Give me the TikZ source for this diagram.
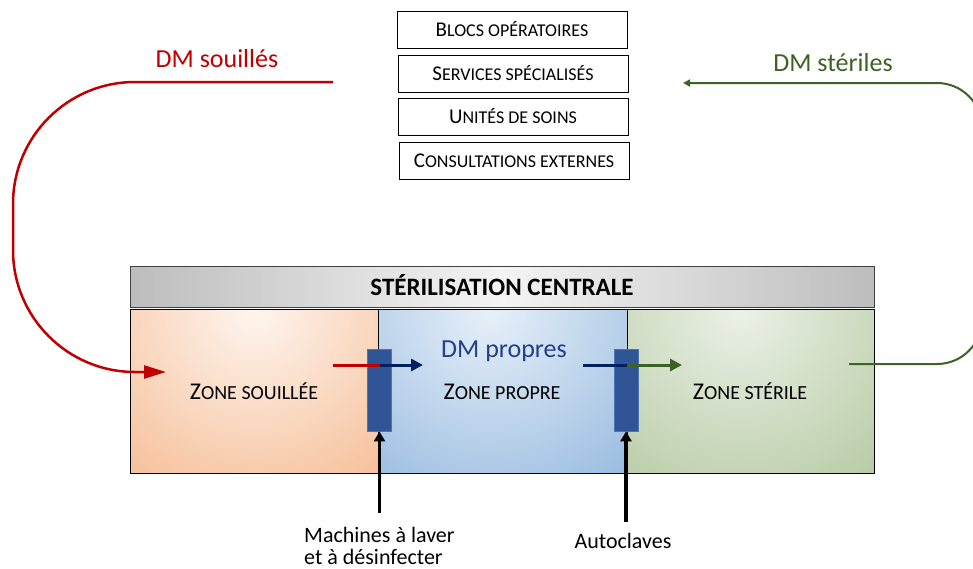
\documentclass[tikz,border=0pt]{standalone}
\usepackage{fontspec}
\setmainfont{Carlito}
\usetikzlibrary{arrows.meta}

\definecolor{soilred}{HTML}{C00000}
\definecolor{sterigreen}{HTML}{3C6226}
\definecolor{navy}{HTML}{002060}
\definecolor{propreblue}{HTML}{223F8C}
\definecolor{machfill}{HTML}{2F5597}
\definecolor{machedge}{HTML}{4A74B5}
\definecolor{hdrgray}{HTML}{BDBDBD}
\definecolor{hdrlight}{HTML}{F4F4F4}
\definecolor{orin}{HTML}{FEF5EF}
\definecolor{orout}{HTML}{F2A168}
\definecolor{blin}{HTML}{E7F0F9}
\definecolor{blout}{HTML}{6C9DD1}
\definecolor{grin}{HTML}{EBF1E7}
\definecolor{grout}{HTML}{95B178}

% small capitals built by hand: first size for the rest of the word
\newcommand\mini[2]{{\fontsize{#1}{#1}\selectfont #2}}

\tikzset{
  unitbox/.style={draw=black, line width=1pt, minimum width=230pt, minimum height=37pt,
    inner sep=0pt, text height=13.5pt, text depth=0pt, font=\fontsize{21}{25}\selectfont},
  zonelabel/.style={inner sep=0pt, text height=15.5pt, text depth=0pt, font=\fontsize{24}{28}\selectfont},
  flowlabel/.style={inner sep=0pt, font=\fontsize{26}{30}\selectfont},
  machine/.style={draw=machedge, line width=0.8pt, fill=machfill, minimum width=24pt,
    minimum height=82pt, inner sep=0pt},
  caption/.style={inner sep=0pt, font=\fontsize{22}{26}\selectfont},
  shortflow/.style={line width=3pt, -{Triangle[length=12pt,width=12pt]}},
  feed/.style={line width=3.5pt, black, -{Triangle[length=10pt,width=11pt]}},
}

\begin{document}
\begin{tikzpicture}[x=1pt, y=-1pt]
\useasboundingbox (0,0) rectangle (973,568);
\clip (0,0) rectangle (973,568);

% hospital units
\node[unitbox] (blocs) at (512,30) {B\mini{18}{LOCS OPÉRATOIRES}};
\node[unitbox] (serv)  at (513,73.5) {S\mini{18}{ERVICES SPÉCIALISÉS}};
\node[unitbox] (unit)  at (513,116.5) {U\mini{18}{NITÉS DE SOINS}};
\node[unitbox] (cons)  at (514,161) {C\mini{18}{ONSULTATIONS EXTERNES}};

% header bar
\shade[left color=hdrgray, right color=hdrgray, middle color=hdrlight]
  (130,266) rectangle (874,307);
\draw[draw=black!75, line width=1pt] (130,266) rectangle (874,307);
\node[inner sep=0pt, text height=16pt, text depth=0pt, font=\fontsize{25}{28}\selectfont\bfseries]
  (hdr) at (502,287) {STÉRILISATION CENTRALE};

% three zones with radial shading
\begin{scope}
  \clip (130,309) rectangle (378,473);
  \shade[inner color=orin, outer color=orout] (254,310) circle (330pt);
\end{scope}
\begin{scope}
  \clip (378,309) rectangle (627,473);
  \shade[inner color=blin, outer color=blout] (490,310) circle (340pt);
\end{scope}
\begin{scope}
  \clip (627,309) rectangle (874,473);
  \shade[inner color=grin, outer color=grout] (740,310) circle (360pt);
\end{scope}
\draw[line width=1pt] (130,309) rectangle (874,473);
\draw[line width=1pt] (378,309) -- (378,473);
\draw[line width=1pt] (627,309) -- (627,473);

\node[zonelabel] (zs)  at (254,392) {Z\mini{20}{ONE SOUILLÉE}};
\node[zonelabel] (zp)  at (502,392) {Z\mini{20}{ONE PROPRE}};
\node[zonelabel] (zst) at (750,392) {Z\mini{20}{ONE STÉRILE}};

% washers and autoclaves
\node[machine] (wash) at (379.5,390) {};
\node[machine] (auto) at (626,390) {};

% flows through the machines
\coordinate (w-in)  at (333,365);
\coordinate (w-mid) at (wash.center |- w-in);
\coordinate (w-out) at (423,365);
\draw[line width=3pt, soilred] (w-in) -- (w-mid);
\draw[shortflow, navy] (w-mid) -- (w-out);

\coordinate (a-in)  at (583,365);
\coordinate (a-mid) at (627,365);
\coordinate (a-out) at (682,365);
\draw[line width=3pt, navy] (a-in) -- (a-mid);
\draw[shortflow, sterigreen] (a-mid) -- (a-out);

\node[flowlabel, text=propreblue] (dmp) at (504,351) {DM propres};

% soiled devices coming back from the units
\coordinate (soil-start) at (333,82);
\coordinate (soil-end) at (166,372);
\draw[soilred, line width=2.5pt, rounded corners=122pt, -{Triangle[length=22pt,width=13pt]}]
  (soil-start) -| (13,372) -- (soil-end);
\node[flowlabel, text=soilred] (dms) at (217,59) {DM souillés};

% sterile devices going out to the units
\coordinate (ster-start) at (849,364);
\coordinate (ster-end) at (683,83);
\draw[sterigreen, line width=2pt, rounded corners=45pt, -{Triangle[length=7pt,width=7pt]}]
  (ster-start) -- (982,364) -- (982,83) -- (ster-end);
\node[flowlabel, text=sterigreen] (dmst) at (833,63) {DM stériles};

% captions and feeding arrows
\node[caption, anchor=base west] (cap1a) at (304,542) {Machines à laver};
\node[caption, anchor=base west] (cap1b) at (304,564) {et à désinfecter};
\node[caption, anchor=base] (cap2) at (623,548) {Autoclaves};
\coordinate (f1) at (wash.south |- 0,513);
\coordinate (f2) at (auto.south |- 0,522);
\draw[feed] (f1) -- (wash.south);
\draw[feed] (f2) -- (auto.south);
\end{tikzpicture}
\end{document}
